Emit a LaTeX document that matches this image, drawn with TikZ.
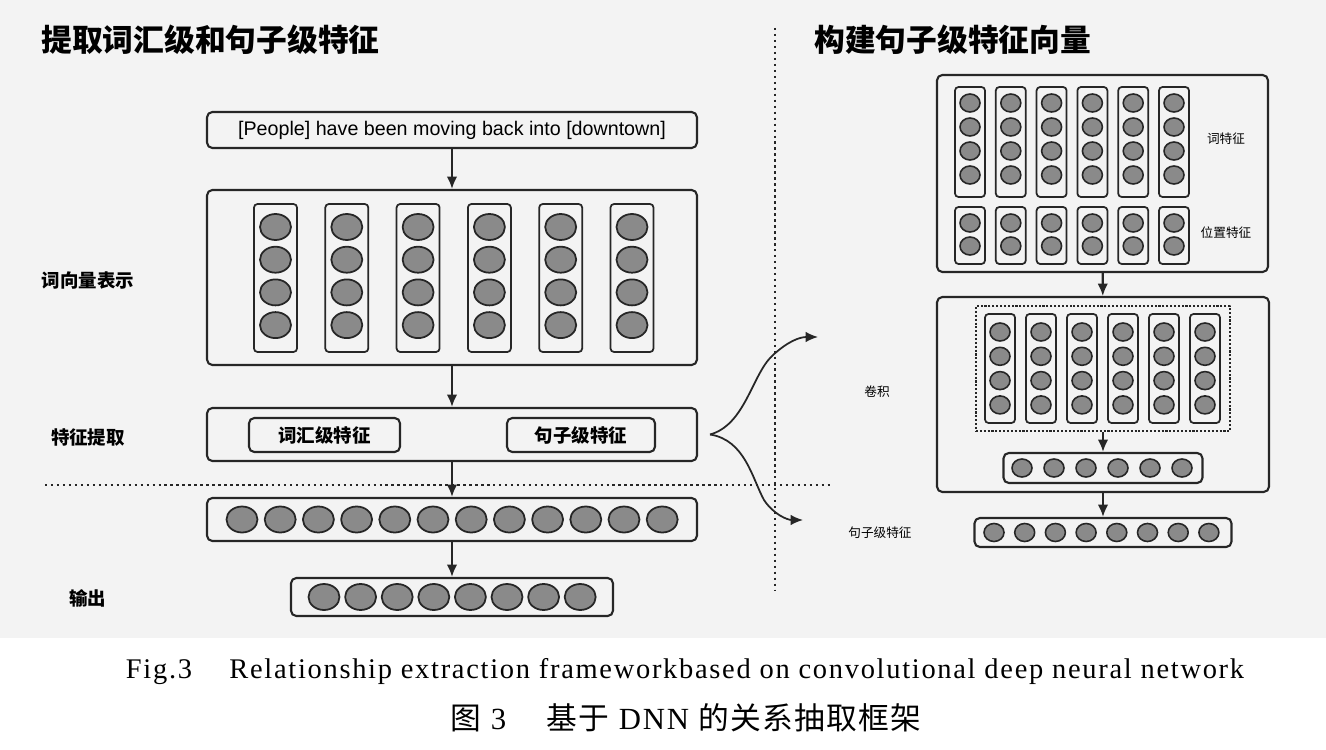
\documentclass[tikz,border=0pt]{standalone}
\usepackage{fontspec}
\setmainfont{Liberation Serif}
\setsansfont{Liberation Sans}
\newfontfamily\cjk{Noto Sans CJK SC}
\newfontfamily\capcjk[LetterSpace=4]{Noto Sans CJK SC}
\newfontfamily\capfont[LetterSpace=6]{Liberation Serif}
\usetikzlibrary{positioning,arrows.meta,shapes.geometric}
\definecolor{neuron}{RGB}{138,138,138}
\definecolor{ink}{RGB}{38,38,38}
\definecolor{paper}{RGB}{243,243,243}

\begin{document}
\begin{tikzpicture}[x=0.02cm, y=-0.02cm, line join=round, every node/.style={inner sep=0pt}, frame/.style={draw=ink, rounded corners=3pt, line width=1.2pt}, col/.style={draw=ink, rounded corners=2pt, line width=1pt}, cell/.style={ellipse, draw=ink, fill=neuron, line width=1pt, minimum width=0.62cm, minimum height=0.52cm}, dot/.style={ellipse, draw=ink, fill=neuron, line width=0.9pt, minimum width=0.4cm, minimum height=0.36cm}, flow/.style={draw=ink, line width=1.2pt, -{Latex[length=7pt,width=6pt]}}, sep/.style={draw=ink, line width=1.4pt, dotted}, head/.style={font=\cjk\fontsize{17.5}{20}\selectfont\bfseries}, tag/.style={font=\cjk\fontsize{10.5}{12}\selectfont\bfseries}, small/.style={font=\cjk\fontsize{7.2}{9}\selectfont}]

\fill[paper] (0,0) rectangle (1326,638);
\useasboundingbox (0,0) rectangle (1326,750);

% titles
\node[head, anchor=west] (ltitle) at (41,40) {提取词汇级和句子级特征};
\node[head, anchor=west] (rtitle) at (814,40) {构建句子级特征向量};

% dotted separators
\coordinate (vtop) at (775,28);
\coordinate (vbot) at (775,590);
\coordinate (hleft) at (45,485);
\coordinate (hright) at (832,485);
\draw[sep] (vtop) -- (vbot);
\draw[sep] (hleft) -- (hright);

% left: word level and sentence level features
\node[frame, minimum width=9.8cm, minimum height=0.72cm, font=\sffamily\fontsize{11.2}{13}\selectfont] (sent) at (452,130) {[People] have been moving back into [downtown]};
\node[frame, minimum width=9.8cm, minimum height=3.5cm] (embed) at (452,277.5) {};
\foreach \i in {0,...,5} {
  \node[col, minimum width=0.86cm, minimum height=2.96cm] (wcol\i) at (275.5+71.3*\i,278) {};
  \foreach \j in {0,...,3}
    \node[cell] (w\i\j) at (275.5+71.3*\i,227+32.7*\j) {};
}
\node[tag] (embedlbl) at (88,280) {词向量表示};

\node[frame, minimum width=9.8cm, minimum height=1.06cm] (feat) at (452,434.5) {};
\node[frame, tag, minimum width=3.02cm, minimum height=0.68cm] (lexf) at (324.5,435) {词汇级特征};
\node[frame, tag, minimum width=2.96cm, minimum height=0.68cm] (senf) at (581,435) {句子级特征};
\node[tag] (featlbl) at (88,437) {特征提取};

\node[frame, minimum width=9.8cm, minimum height=0.86cm] (hidden) at (452,519.5) {};
\foreach \i in {0,...,11}
  \node[cell] (h\i) at (242+38.2*\i,519.5) {};

\node[frame, minimum width=6.44cm, minimum height=0.76cm] (out) at (452,597) {};
\foreach \i in {0,...,7}
  \node[cell] (o\i) at (324+36.6*\i,597) {};
\node[tag] (outlbl) at (88,598) {输出};

\draw[flow] (sent) -- (embed);
\draw[flow] (embed) -- (feat);
\draw[flow] (feat) -- (hidden);
\draw[flow] (hidden) -- (out);

% right: sentence level feature vector
\node[frame, minimum width=6.62cm, minimum height=3.94cm] (input) at (1102.5,173.5) {};
\foreach \i in {0,...,5} {
  \node[col, minimum width=0.6cm, minimum height=2.2cm] (tcol\i) at (970+40.8*\i,142) {};
  \foreach \j in {0,...,3}
    \node[dot] (t\i\j) at (970+40.8*\i,103+24*\j) {};
  \node[col, minimum width=0.6cm, minimum height=1.14cm] (pcol\i) at (970+40.8*\i,235.5) {};
  \foreach \j in {0,1}
    \node[dot] (p\i\j) at (970+40.8*\i,223+23*\j) {};
}
\node[small] (wordlbl) at (1226,139) {词特征};
\node[small] (poslbl) at (1226,233) {位置特征};

\node[frame, minimum width=6.64cm, minimum height=3.9cm] (conv) at (1103,394.5) {};
\node[draw=ink, densely dotted, line width=1.2pt, minimum width=5.08cm, minimum height=2.5cm] (kernel) at (1103,368.5) {};
\foreach \i in {0,...,5} {
  \node[col, minimum width=0.6cm, minimum height=2.18cm] (ccol\i) at (1000+41*\i,368.5) {};
  \foreach \j in {0,...,3}
    \node[dot] (c\i\j) at (1000+41*\i,332+24.3*\j) {};
}
\node[small] (convlbl) at (877,392) {卷积};

\node[frame, minimum width=3.98cm, minimum height=0.6cm] (pool) at (1103,468) {};
\foreach \i in {0,...,5}
  \node[dot] (m\i) at (1022+32*\i,468) {};

\node[frame, minimum width=5.14cm, minimum height=0.58cm] (vec) at (1103,532.5) {};
\foreach \i in {0,...,7}
  \node[dot] (v\i) at (994+30.7*\i,532.5) {};
\node[small] (veclbl) at (880,533) {句子级特征};

\draw[flow] (input) -- (conv);
\draw[flow] (kernel) -- (pool);
\draw[flow] (conv) -- (vec);

% branch to the right side
\coordinate (split) at ([xshift=0.24cm]feat.east);
\coordinate (toconv) at (818,337);
\coordinate (tovec) at (803,520);
\draw[flow, line width=1pt] (split) .. controls (745,425) and (752,375) .. (772,356) .. controls (788,341) and (800,337) .. (toconv);
\draw[flow, line width=1pt] (split) .. controls (745,440) and (752,478) .. (764,500) .. controls (774,515) and (788,520) .. (tovec);

% caption
\node[font=\capfont\fontsize{16.2}{18}\selectfont] (capen) at (685,672) {Fig.3\quad\ Relationship extraction frameworkbased on convolutional deep neural network};
\node[font=\capfont\fontsize{17.5}{20}\selectfont] (capzh) at (686,718) {{\capcjk 图}\ 3\quad\ {\capcjk 基于}\ DNN\ {\capcjk 的关系抽取框架}};
\end{tikzpicture}
\end{document}
